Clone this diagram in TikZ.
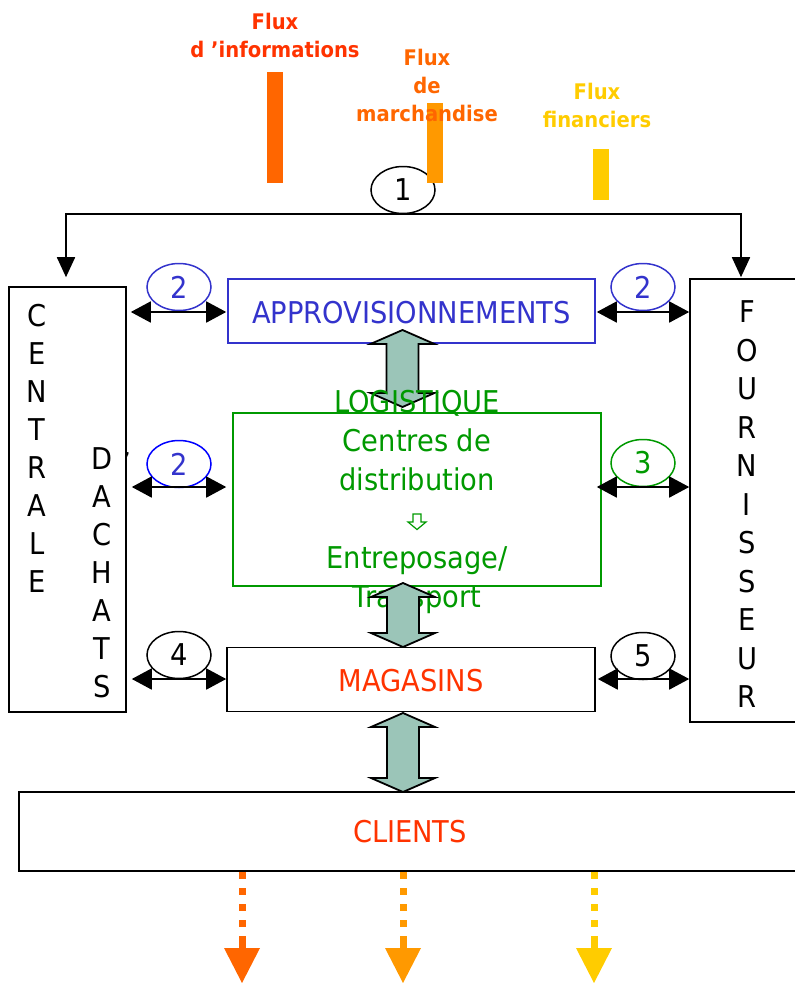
\documentclass[tikz,border=0pt]{standalone}
\usepackage{fontspec}
\setmainfont{DejaVu Sans}[FakeStretch=0.91]
\usetikzlibrary{shapes.geometric,arrows.meta}
\definecolor{fred}{HTML}{FF3300}
\definecolor{forange}{HTML}{FF6600}
\definecolor{fmid}{HTML}{FF9900}
\definecolor{fyel}{HTML}{FFCC00}
\definecolor{fblue}{HTML}{3333CC}
\definecolor{fblue2}{HTML}{0000FF}
\definecolor{fgreen}{HTML}{009900}
\definecolor{fteal}{RGB}{155,197,184}
\newcommand\fatarrow[3]{\filldraw[fat] (#1,#2) -- (#1+32,#2+14) -- (#1+16,#2+14) -- (#1+16,#3-14) -- (#1+32,#3-14) -- (#1,#3) -- (#1-32,#3-14) -- (#1-16,#3-14) -- (#1-16,#2+14) -- (#1-32,#2+14) -- cycle;}
\begin{document}
\begin{tikzpicture}[x=1pt,y=-1pt,
  big/.style={font=\fontsize{30}{36}\selectfont},
  lab/.style={font=\fontsize{21.5}{28}\selectfont\bfseries, align=center},
  box/.style={draw, line width=1.6pt, inner sep=0pt},
  oval/.style={draw, ellipse, minimum width=64pt, minimum height=47pt, inner sep=0pt, line width=1.5pt, font=\fontsize{30}{36}\selectfont},
  dbl/.style={{Triangle[length=20pt,width=21pt]}-{Triangle[length=20pt,width=21pt]}, line width=1.8pt},
  arr/.style={-{Triangle[length=20pt,width=18pt]}, line width=1.8pt},
  fat/.style={fill=fteal, draw=black, line width=1.8pt, line join=miter},
  bar/.style={inner sep=0pt, minimum width=16pt},
  vert/.style={font=\fontsize{30}{38}\selectfont, align=center}
]
\useasboundingbox (0,0) rectangle (795,983);

% top labels
\node[lab, text=fred] (l1) at (275,35) {Flux\\d 'informations};
\node[lab, text=fyel] (l3) at (597,105) {Flux\\financiers};

% ellipse 1
\node[oval] (e1) at (403,190) {1};

% boxes
\node[box, minimum width=117pt, minimum height=425pt] (cent) at (67.5,499.5) {};
\node[box, minimum width=106pt, minimum height=443pt] (four) at (743,500.5) {};
\node[box, draw=fblue, minimum width=367pt, minimum height=64pt] (appro) at (411.5,311) {};
\node[box, draw=fgreen, minimum width=368pt, minimum height=173pt] (logi) at (417,499.5) {};
\node[box, minimum width=368pt, minimum height=64pt] (mag) at (411,679.5) {};
\node[box, minimum width=782pt, minimum height=79pt] (cli) at (410,831.5) {};

% bars
\node[bar, fill=forange, minimum height=111pt] (b1) at (274.5,127.5) {};
\node[bar, fill=fmid, minimum height=80pt] (b2) at (435,143) {};
\node[bar, fill=fyel, minimum height=51pt] (b3) at (601,174.5) {};
\node[lab, text=forange] (l2) at (427,85) {Flux\\de\\marchandise};

% top connectors
\draw[arr, shorten >=9pt] (e1.south) -| ([xshift=-1.5pt]cent.north);
\draw[arr, shorten >=1pt] (e1.south) -| ([xshift=-2pt]four.north);

% vertical texts
\node[vert] (ct1) at (37,448) {C\\E\\N\\T\\R\\A\\L\\E};
\node[vert] (ct2) at (102,573) {D\\A\\C\\H\\A\\T\\S};
\node[font=\fontsize{26}{30}\selectfont] (apos) at (127,462) {'};
\node[vert, font=\fontsize{30}{38.5}\selectfont] (ft) at (747,504.5) {F\\O\\U\\R\\N\\I\\S\\S\\E\\U\\R};

% box texts
\node[big, text=fblue] (apt) at (411.5,313) {APPROVISIONNEMENTS};
\node[big, text=fred] (mgt) at (411,681) {MAGASINS};
\node[big, text=fred] (clt) at (410,832) {CLIENTS};

% fat arrows
\fatarrow{402.5}{330}{407}
\node[big, text=fgreen, align=center, font=\fontsize{30}{39}\selectfont] (lgt) at (417,502)
  {LOGISTIQUE\\Centres de\\distribution\\\strut\\Entreposage/\\Transport};
% small outlined down arrow inside the logistics text
\coordinate (sa) at (417,522);
\draw[fgreen, line width=1.2pt, line join=miter]
  ([shift={(-4,-8)}]sa) -- ([shift={(4,-8)}]sa) -- ([shift={(4,0)}]sa) -- ([shift={(9,0)}]sa)
  -- ([shift={(0,7.5)}]sa) -- ([shift={(-9,0)}]sa) -- ([shift={(-4,0)}]sa) -- cycle;
\fatarrow{403}{583}{647}
\fatarrow{403}{713}{792}

% ovals with numbers
\node[oval, draw=fblue, text=fblue] (e2a) at (179,287) {2};
\node[oval, draw=fblue, text=fblue] (e2b) at (643,287) {2};
\node[oval, draw=fblue2, text=fblue] (e2c) at (179,464) {2};
\node[oval, draw=fgreen, text=fgreen] (e3) at (643,463) {3};
\node[oval] (e4) at (179,655) {4};
\node[oval] (e5) at (643,656) {5};

% double arrows
\coordinate (y1) at (0,312);
\coordinate (y2) at (0,487);
\coordinate (y3) at (0,679);
\draw[dbl, shorten <=4pt, shorten >=1pt] (cent.east |- y1) -- (appro.west |- y1);
\draw[dbl, shorten <=1pt, shorten >=0pt] (appro.east |- y1) -- (four.west |- y1);
\draw[dbl, shorten <=5pt, shorten >=6pt] (cent.east |- y2) -- (logi.west |- y2);
\draw[dbl, shorten <=-5pt, shorten >=0pt] (logi.east |- y2) -- (four.west |- y2);
\draw[dbl, shorten <=5pt, shorten >=0pt] (cent.east |- y3) -- (mag.west |- y3);
\draw[dbl, shorten <=2pt, shorten >=0pt] (mag.east |- y3) -- (four.west |- y3);

% dotted flux arrows below clients
\foreach \x/\c [count=\i] in {242/forange, 403/fmid, 594/fyel}{
  \coordinate (d\i a) at (\x,872);
  \coordinate (d\i b) at (\x,936);
  \coordinate (d\i c) at (\x,949);
  \draw[\c, line width=7pt, dash pattern=on 7pt off 9pt] (d\i a) -- (d\i b);
  \draw[\c, line width=7pt] (d\i b) -- (d\i c);
  \fill[\c] (\x-18,948) -- (\x+18,948) -- (\x,983) -- cycle;
}
\end{tikzpicture}
\end{document}
